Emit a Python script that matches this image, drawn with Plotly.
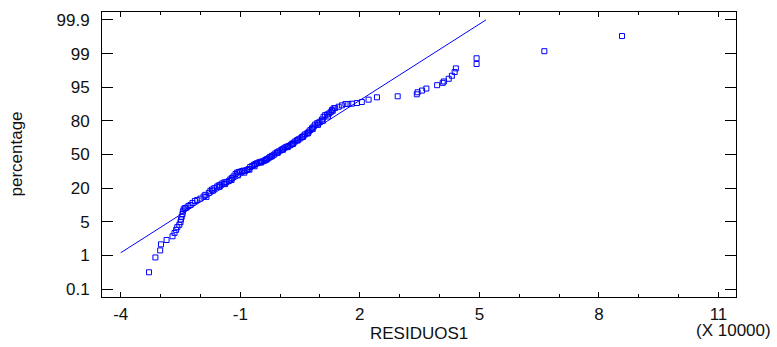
import plotly.graph_objects as go

# Probability axis: labelled percentages placed at equally spaced positions 0..8
prob_labels = ["0.1", "1", "5", "20", "50", "80", "95", "99", "99.9"]
prob_pos = [0, 1, 2, 3, 4, 5, 6, 7, 8]

# Residuals (x 10000) and their plotting positions on the probability axis
residuals = [
    -3.29, -3.13, -3.01, -2.99, -2.85, -2.70, -2.65, -2.61, -2.58, -2.53,
    -2.50, -2.49, -2.47, -2.45, -2.44, -2.42, -2.39, -2.35, -2.30, -2.25,
    -2.20, -2.14, -2.08, -2.00, -1.92, -1.88, -1.79, -1.75, -1.71, -1.65,
    -1.58, -1.54, -1.50, -1.45, -1.40, -1.35, -1.29, -1.25, -1.21, -1.17,
    -1.12, -1.08, -1.04, -1.00, -0.95, -0.92, -0.87, -0.83, -0.79, -0.75,
    -0.70, -0.66, -0.62, -0.58, -0.54, -0.50, -0.45, -0.41, -0.37, -0.33,
    -0.29, -0.25, -0.20, -0.16, -0.12, -0.08, -0.04, 0.01, 0.05, 0.09,
    0.13, 0.17, 0.21, 0.26, 0.30, 0.34, 0.38, 0.42, 0.46, 0.51,
    0.55, 0.59, 0.63, 0.68, 0.72, 0.76, 0.80, 0.84, 0.88, 0.93,
    0.97, 1.01, 1.05, 1.09, 1.13, 1.18, 1.23, 1.27, 1.30, 1.34,
    1.38, 1.47, 1.55, 1.64, 1.71, 1.80, 1.93, 2.05, 2.22, 2.43,
    2.95, 3.43, 3.45, 3.56, 3.67, 3.94, 4.08, 4.11, 4.23, 4.31,
    4.38, 4.41, 4.93, 4.93, 6.63, 8.58,
    -1.85, -1.68, -1.52, -1.38, -1.22, -1.06, -0.90, -0.77, -0.64, -0.48,
    -0.35, -0.22, -0.06, 0.07, 0.19, 0.32, 0.44, 0.57, 0.70, 0.82,
    0.95, 1.07, 1.20, 1.32,
]
positions = [
    0.50, 0.94, 1.15, 1.33, 1.46, 1.57, 1.67, 1.76, 1.84, 1.91,
    1.99, 2.07, 2.15, 2.23, 2.31, 2.37, 2.41, 2.42, 2.47, 2.50,
    2.56, 2.62, 2.65, 2.69, 2.75, 2.80, 2.86, 2.92, 2.96, 3.00,
    3.05, 3.08, 3.10, 3.14, 3.17, 3.18, 3.21, 3.26, 3.30, 3.35,
    3.42, 3.46, 3.48, 3.49, 3.51, 3.52, 3.52, 3.54, 3.57, 3.63,
    3.66, 3.69, 3.72, 3.74, 3.76, 3.78, 3.79, 3.81, 3.83, 3.86,
    3.89, 3.93, 3.96, 3.99, 4.03, 4.06, 4.09, 4.12, 4.15, 4.18,
    4.21, 4.23, 4.25, 4.28, 4.32, 4.35, 4.39, 4.42, 4.45, 4.48,
    4.52, 4.56, 4.60, 4.63, 4.68, 4.73, 4.78, 4.83, 4.89, 4.93,
    4.95, 4.98, 5.04, 5.12, 5.17, 5.19, 5.22, 5.26, 5.32, 5.37,
    5.38, 5.42, 5.46, 5.50, 5.50, 5.51, 5.53, 5.56, 5.63, 5.70,
    5.73, 5.79, 5.85, 5.90, 5.96, 6.06, 6.13, 6.17, 6.25, 6.34,
    6.45, 6.56, 6.69, 6.86, 7.07, 7.52,
    2.74, 2.93, 3.04, 3.12, 3.24, 3.38, 3.46, 3.55, 3.65, 3.76,
    3.85, 3.94, 4.05, 4.14, 4.22, 4.31, 4.42, 4.52, 4.63, 4.76,
    4.88, 5.00, 5.13, 5.30,
]

# Fitted normal reference line (endpoints)
fit_x = [-4.0, 5.165]
fit_y = [1.08, 8.0]

x_ticks = [-4, -1, 2, 5, 8, 11]

FONT = "Liberation Sans, Arial, sans-serif"
BLUE = "#0000ff"
TXT = "#111111"

fig = go.Figure()
fig.add_trace(go.Scatter(
    x=fit_x, y=fit_y, mode="lines",
    line=dict(color=BLUE, width=1), hoverinfo="skip", showlegend=False,
))
fig.add_trace(go.Scatter(
    x=residuals, y=positions, mode="markers",
    marker=dict(symbol="square-open", size=5, color=BLUE, line=dict(width=1, color=BLUE)),
    showlegend=False,
))

fig.update_layout(
    width=777, height=347,
    margin=dict(l=102, r=41, t=12, b=50),
    paper_bgcolor="white", plot_bgcolor="white",
    font=dict(family=FONT, size=17, color=TXT),
    xaxis=dict(
        range=[-4.47, 11.44], tickvals=x_ticks, ticktext=[str(v) for v in x_ticks],
        ticks="inside", ticklen=5, tickwidth=1, tickcolor="black",
        minor=dict(dtick=1, tick0=-4, ticks="inside", ticklen=3, tickcolor="black", showgrid=False),
        showline=True, linecolor="black", linewidth=1, mirror="ticks",
        showgrid=False, zeroline=False, ticklabelstandoff=2,
    ),
    yaxis=dict(
        range=[-0.235, 8.235], tickvals=prob_pos, ticktext=prob_labels,
        ticks="inside", ticklen=11, tickwidth=1, tickcolor="black",
        showline=True, linecolor="black", linewidth=1, mirror="ticks",
        showgrid=False, zeroline=False, ticklabelstandoff=8,
    ),
    annotations=[
        dict(text="RESIDUOS1", xref="paper", yref="paper", x=0.5, y=0,
             xanchor="center", yanchor="middle", yshift=-36, showarrow=False,
             font=dict(family=FONT, size=17, color=TXT)),
        dict(text="(X 10000)", xref="paper", yref="paper", x=0.996, y=0,
             xanchor="center", yanchor="middle", yshift=-33, showarrow=False,
             font=dict(family=FONT, size=17, color=TXT)),
        dict(text="percentage", xref="paper", yref="paper", x=-0.1356, y=0.5,
             xanchor="center", yanchor="middle", textangle=-90, showarrow=False,
             font=dict(family=FONT, size=17, color=TXT)),
    ],
)

fig.write_html("out.html")
